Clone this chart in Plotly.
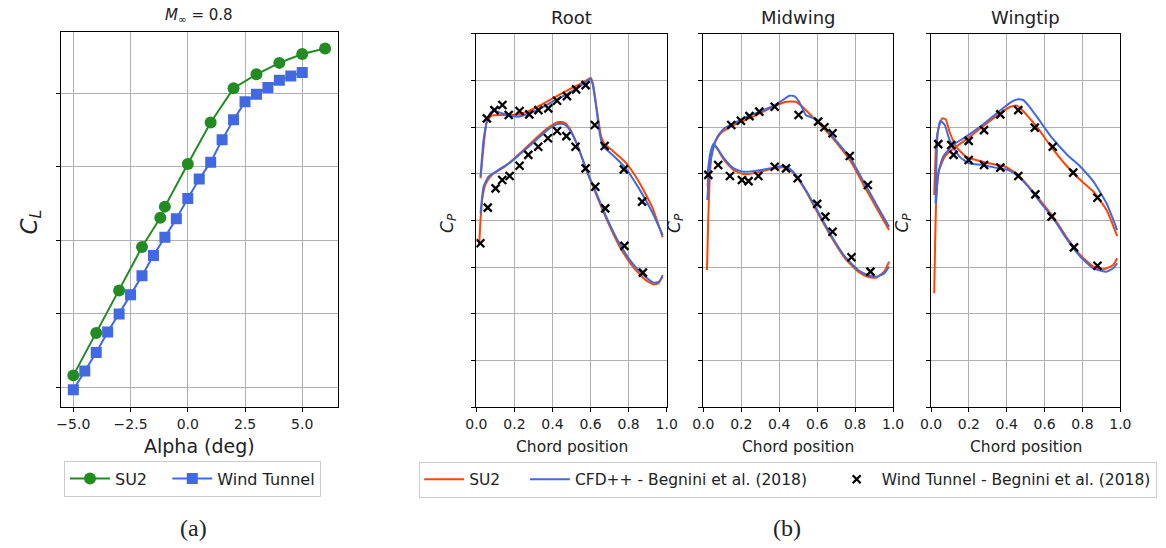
import plotly.graph_objects as go

# ---------------- (a) lift curve ----------------
alpha_su2 = [-5, -4, -3, -2, -1.2, -1, 0, 1, 2, 3, 4, 5, 6]
cl_su2 = [-0.168, -0.053, 0.063, 0.181, 0.261, 0.291, 0.407, 0.520, 0.613, 0.651, 0.682, 0.706, 0.721]
alpha_wt = [-5, -4.5, -4, -3.5, -3, -2.5, -2, -1.5, -1, -0.5, 0, 0.5, 1, 1.5, 2, 2.5, 3, 3.5, 4, 4.5, 5]
cl_wt = [-0.207, -0.156, -0.106, -0.050, -0.001, 0.051, 0.103, 0.158, 0.208, 0.258, 0.313, 0.366,
         0.412, 0.473, 0.527, 0.576, 0.597, 0.615, 0.635, 0.646, 0.656]

# ---------------- (b) pressure distributions ----------------
panels = ["Root", "Midwing", "Wingtip"]

root_su2_up_x = [0.022, 0.038, 0.055, 0.081, 0.132, 0.201, 0.270, 0.338, 0.407, 0.476, 0.545, 0.588, 0.601,
                 0.613, 0.631, 0.656, 0.674, 0.716, 0.785, 0.854, 0.923, 0.979]
root_su2_up_cp = [-0.226, -0.395, -0.529, -0.561, -0.565, -0.565, -0.583, -0.618, -0.657, -0.695, -0.731, -0.756,
                  -0.763, -0.731, -0.609, -0.449, -0.409, -0.374, -0.310, -0.208, -0.074, 0.090]
root_su2_lo_x = [0.015, 0.022, 0.033, 0.050, 0.081, 0.149, 0.235, 0.304, 0.373, 0.430, 0.462, 0.490, 0.527,
                 0.579, 0.631, 0.682, 0.751, 0.820, 0.888, 0.931, 0.957, 0.979]
root_su2_lo_cp = [0.131, -0.003, -0.128, -0.199, -0.244, -0.288, -0.365, -0.431, -0.493, -0.527, -0.524, -0.493,
                  -0.413, -0.267, -0.136, -0.012, 0.136, 0.244, 0.318, 0.342, 0.336, 0.292]
root_cfd_up_x = [0.022, 0.038, 0.055, 0.072, 0.089, 0.115, 0.167, 0.218, 0.270, 0.338, 0.407, 0.476, 0.545,
                 0.588, 0.600, 0.610, 0.627, 0.648, 0.665, 0.682, 0.734, 0.785, 0.854, 0.923, 0.979]
root_cfd_up_cp = [-0.235, -0.431, -0.529, -0.574, -0.588, -0.581, -0.563, -0.556, -0.570, -0.600, -0.640, -0.677,
                  -0.720, -0.752, -0.759, -0.734, -0.627, -0.467, -0.395, -0.381, -0.333, -0.279, -0.172, -0.047, 0.078]
root_cfd_lo_x = [0.022, 0.038, 0.064, 0.115, 0.184, 0.235, 0.304, 0.373, 0.424, 0.459, 0.485, 0.527, 0.579,
                 0.631, 0.682, 0.751, 0.820, 0.888, 0.931, 0.957, 0.979]
root_cfd_lo_cp = [-0.038, -0.181, -0.235, -0.270, -0.315, -0.360, -0.422, -0.484, -0.516, -0.516, -0.493, -0.413,
                  -0.270, -0.145, -0.021, 0.122, 0.229, 0.301, 0.333, 0.329, 0.301]
root_wt_x = [0.055, 0.095, 0.137, 0.170, 0.227, 0.278, 0.326, 0.378, 0.424, 0.476, 0.524, 0.574, 0.622, 0.674,
             0.775, 0.871,
             0.021, 0.060, 0.101, 0.136, 0.175, 0.227, 0.273, 0.325, 0.376, 0.424, 0.473, 0.521, 0.574, 0.625,
             0.677, 0.778, 0.875]
root_wt_cp = [-0.547, -0.591, -0.618, -0.565, -0.586, -0.568, -0.591, -0.600, -0.641, -0.666, -0.702, -0.725,
              -0.511, -0.399, -0.274, -0.101,
              0.122, -0.069, -0.172, -0.217, -0.238, -0.293, -0.351, -0.395, -0.440, -0.479, -0.452, -0.395,
              -0.279, -0.181, -0.065, 0.136, 0.279]

mid_su2_up_x = [0.022, 0.036, 0.057, 0.091, 0.160, 0.229, 0.298, 0.367, 0.436, 0.488, 0.522, 0.574, 0.643,
                0.712, 0.781, 0.850, 0.919, 0.979]
mid_su2_up_cp = [-0.181, -0.324, -0.413, -0.467, -0.511, -0.541, -0.574, -0.609, -0.636, -0.636, -0.609, -0.556,
                 -0.484, -0.404, -0.310, -0.181, -0.056, 0.051]
mid_su2_lo_x = [0.019, 0.026, 0.033, 0.043, 0.057, 0.078, 0.109, 0.160, 0.212, 0.281, 0.350, 0.419, 0.453,
                0.488, 0.540, 0.609, 0.678, 0.747, 0.816, 0.867, 0.910, 0.953, 0.979]
mid_su2_lo_cp = [0.265, -0.020, -0.217, -0.359, -0.404, -0.377, -0.324, -0.270, -0.249, -0.256, -0.274, -0.285,
                 -0.274, -0.238, -0.158, -0.029, 0.095, 0.203, 0.274, 0.301, 0.306, 0.274, 0.220]
mid_cfd_up_x = [0.021, 0.031, 0.048, 0.074, 0.109, 0.160, 0.229, 0.298, 0.367, 0.419, 0.453, 0.479, 0.505,
                0.540, 0.583, 0.643, 0.712, 0.781, 0.850, 0.919, 0.979]
mid_cfd_up_cp = [-0.110, -0.270, -0.368, -0.449, -0.493, -0.520, -0.556, -0.582, -0.613, -0.645, -0.668, -0.666,
                 -0.636, -0.565, -0.547, -0.493, -0.413, -0.324, -0.199, -0.074, 0.033]
mid_cfd_lo_x = [0.022, 0.036, 0.053, 0.074, 0.109, 0.160, 0.212, 0.281, 0.350, 0.419, 0.453, 0.488, 0.540,
                0.609, 0.678, 0.747, 0.816, 0.867, 0.910, 0.953, 0.979]
mid_cfd_lo_cp = [-0.252, -0.359, -0.409, -0.386, -0.333, -0.279, -0.261, -0.267, -0.279, -0.292, -0.279, -0.244,
                 -0.163, -0.038, 0.087, 0.194, 0.265, 0.292, 0.301, 0.283, 0.247]
mid_wt_x = [0.147, 0.198, 0.243, 0.295, 0.376, 0.502, 0.605, 0.638, 0.681, 0.772, 0.867,
            0.026, 0.078, 0.140, 0.203, 0.238, 0.290, 0.376, 0.436, 0.497, 0.600, 0.643, 0.681, 0.781, 0.881]
mid_wt_cp = [-0.511, -0.534, -0.559, -0.583, -0.609, -0.565, -0.529, -0.499, -0.467, -0.345, -0.190,
             -0.244, -0.297, -0.238, -0.217, -0.211, -0.238, -0.288, -0.279, -0.226, -0.089, -0.021, 0.060,
             0.197, 0.274]

tip_su2_up_x = [0.017, 0.022, 0.029, 0.043, 0.073, 0.124, 0.202, 0.271, 0.358, 0.418, 0.453, 0.478, 0.513,
                0.565, 0.634, 0.712, 0.789, 0.858, 0.927, 0.983]
tip_su2_up_cp = [0.390, 0.104, -0.145, -0.270, -0.342, -0.390, -0.445, -0.502, -0.568, -0.609, -0.615, -0.595,
                 -0.556, -0.493, -0.395, -0.297, -0.217, -0.154, -0.056, 0.083]
tip_su2_lo_x = [0.017, 0.029, 0.047, 0.060, 0.078, 0.098, 0.133, 0.185, 0.237, 0.306, 0.392, 0.461, 0.513,
                0.582, 0.651, 0.720, 0.789, 0.858, 0.914, 0.962, 0.983]
tip_su2_lo_cp = [-0.137, -0.431, -0.520, -0.547, -0.541, -0.475, -0.395, -0.342, -0.324, -0.306, -0.288, -0.244,
                 -0.185, -0.101, -0.012, 0.095, 0.185, 0.247, 0.261, 0.238, 0.202]
tip_cfd_up_x = [0.026, 0.038, 0.064, 0.116, 0.185, 0.271, 0.358, 0.427, 0.461, 0.487, 0.513, 0.565, 0.634,
                0.720, 0.789, 0.858, 0.927, 0.983]
tip_cfd_up_cp = [-0.092, -0.252, -0.342, -0.404, -0.449, -0.511, -0.583, -0.636, -0.649, -0.645, -0.618, -0.547,
                 -0.449, -0.351, -0.288, -0.208, -0.092, 0.051]
tip_cfd_lo_x = [0.024, 0.035, 0.050, 0.073, 0.098, 0.150, 0.202, 0.271, 0.358, 0.409, 0.461, 0.513, 0.582,
                0.651, 0.720, 0.789, 0.858, 0.927, 0.962, 0.983]
tip_cfd_lo_cp = [-0.092, -0.467, -0.534, -0.511, -0.431, -0.342, -0.306, -0.297, -0.279, -0.270, -0.235, -0.181,
                 -0.092, -0.003, 0.104, 0.194, 0.256, 0.274, 0.256, 0.229]
tip_wt_x = [0.038, 0.119, 0.199, 0.280, 0.366, 0.461, 0.548, 0.643, 0.751, 0.879,
            0.107, 0.199, 0.280, 0.366, 0.461, 0.551, 0.637, 0.755, 0.879]
tip_wt_cp = [-0.409, -0.351, -0.426, -0.484, -0.568, -0.591, -0.497, -0.395, -0.256, -0.122,
             -0.404, -0.324, -0.297, -0.283, -0.238, -0.140, -0.021, 0.144, 0.242]

cp_ticks = [-1.0, -0.75, -0.5, -0.25, 0.0, 0.25, 0.5, 0.75, 1.0]
chord_ticks = [0.0, 0.2, 0.4, 0.6, 0.8, 1.0]
alpha_ticks = [-5.0, -2.5, 0.0, 2.5, 5.0]
cl_ticks = [-0.2, 0.0, 0.2, 0.4, 0.6]

W, H = 1166, 548
C_SU2 = "#FF4500"
C_CFD = "#4169E1"
C_GREEN = "#228B22"
FONT = "DejaVu Sans"
TXT = "#222222"
NB = "\u00a0"

fig = go.Figure()

# (a)
fig.add_trace(go.Scatter(x=alpha_su2, y=cl_su2, mode="lines+markers", name="SU2" + NB * 3,
                         line=dict(color=C_GREEN, width=2), marker=dict(symbol="circle", size=12, color=C_GREEN),
                         xaxis="x", yaxis="y", legend="legend"))
fig.add_trace(go.Scatter(x=alpha_wt, y=cl_wt, mode="lines+markers", name="Wind Tunnel",
                         line=dict(color=C_CFD, width=2), marker=dict(symbol="square", size=11, color=C_CFD),
                         xaxis="x", yaxis="y", legend="legend"))

# (b)
data_b = [
    (root_su2_up_x, root_su2_up_cp, root_su2_lo_x, root_su2_lo_cp,
     root_cfd_up_x, root_cfd_up_cp, root_cfd_lo_x, root_cfd_lo_cp, root_wt_x, root_wt_cp),
    (mid_su2_up_x, mid_su2_up_cp, mid_su2_lo_x, mid_su2_lo_cp,
     mid_cfd_up_x, mid_cfd_up_cp, mid_cfd_lo_x, mid_cfd_lo_cp, mid_wt_x, mid_wt_cp),
    (tip_su2_up_x, tip_su2_up_cp, tip_su2_lo_x, tip_su2_lo_cp,
     tip_cfd_up_x, tip_cfd_up_cp, tip_cfd_lo_x, tip_cfd_lo_cp, tip_wt_x, tip_wt_cp),
]
for i, d in enumerate(data_b):
    xa, ya = f"x{i+2}", f"y{i+2}"
    su_ux, su_uc, su_lx, su_lc, cf_ux, cf_uc, cf_lx, cf_lc, wt_x, wt_c = d
    first = (i == 0)
    for j, (xx, cc) in enumerate([(su_ux, su_uc), (su_lx, su_lc)]):
        fig.add_trace(go.Scatter(x=xx, y=cc, mode="lines", name="SU2" + NB * 4, legendgroup="su2",
                                 showlegend=first and j == 0, legendrank=1,
                                 line=dict(color=C_SU2, width=2, shape="spline", smoothing=0.5),
                                 xaxis=xa, yaxis=ya, legend="legend2"))
    for j, (xx, cc) in enumerate([(cf_ux, cf_uc), (cf_lx, cf_lc)]):
        fig.add_trace(go.Scatter(x=xx, y=cc, mode="lines", name="CFD++ - Begnini et al. (2018)" + NB * 4,
                                 legendgroup="cfd", showlegend=first and j == 0, legendrank=2,
                                 line=dict(color=C_CFD, width=2, shape="spline", smoothing=0.5),
                                 xaxis=xa, yaxis=ya, legend="legend2"))
    fig.add_trace(go.Scatter(x=wt_x, y=wt_c, mode="markers", name="Wind Tunnel - Begnini et al. (2018)",
                             legendgroup="wt", showlegend=first, legendrank=3,
                             marker=dict(symbol="x-thin", size=8, color="black",
                                         line=dict(width=2.3, color="black")),
                             xaxis=xa, yaxis=ya, legend="legend2"))

axis_common = dict(showline=True, linecolor="black", linewidth=1.2, mirror=True, ticks="outside",
                   ticklen=4, tickwidth=1, tickcolor="black", showgrid=True, gridcolor="#b0b0b0",
                   gridwidth=0.8, zeroline=False)

layout = dict(
    width=W, height=H, margin=dict(l=0, r=0, t=0, b=0),
    paper_bgcolor="white", plot_bgcolor="white",
    font=dict(family=FONT, color=TXT, size=14),
    xaxis=dict(domain=[50.7 / W, 333 / W], range=[-5.55, 6.55], anchor="y",
               tickvals=alpha_ticks, ticktext=["\u22125.0", "\u22122.5", "0.0", "2.5", "5.0"],
               tickfont=dict(size=14, family=FONT, color=TXT), **axis_common),
    yaxis=dict(domain=[1 - 407 / H, 1 - 32 / H], range=[-0.254, 0.766], anchor="x",
               tickvals=cl_ticks, showticklabels=False, **axis_common),
)
x_dom = [(474.3, 668.3), (705.7, 899.0), (937.7, 1130.7)]
for i, (a, b) in enumerate(x_dom):
    layout[f"xaxis{i+2}"] = dict(domain=[a / W, b / W], range=[0, 1], anchor=f"y{i+2}",
                                 tickvals=chord_ticks, ticktext=[f"{v:.1f}" for v in chord_ticks],
                                 tickfont=dict(size=14, family=FONT, color=TXT), **axis_common)
    layout[f"yaxis{i+2}"] = dict(domain=[1 - 407.3 / H, 1 - 33.7 / H], range=[1, -1], anchor=f"x{i+2}",
                                 tickvals=cp_ticks, showticklabels=False, **axis_common)

layout["legend"] = dict(x=54 / W, y=1 - 460.7 / H, xanchor="left", yanchor="top", orientation="h",
                        bordercolor="#cccccc", borderwidth=1, bgcolor="white", itemwidth=40,
                        font=dict(size=16, family=FONT, color=TXT))
layout["legend2"] = dict(x=416 / W, y=1 - 461.7 / H, xanchor="left", yanchor="top", orientation="h",
                         bordercolor="#cccccc", borderwidth=1, bgcolor="white", itemwidth=40,
                         font=dict(size=15.5, family=FONT, color=TXT))
fig.update_layout(**layout)


def ann(text, x, y, size, angle=0, family=FONT):
    fig.add_annotation(text=text, x=x / W, y=1 - y / H, xref="paper", yref="paper", showarrow=False,
                       xanchor="center", yanchor="middle", textangle=angle,
                       font=dict(size=size, family=family, color=TXT))


ann("<i>M</i><sub>\u221e</sub> = 0.8", 191.9, 16, 15)
ann("<i>C<sub>L</sub></i>", 20, 222, 23, angle=-90)
ann("Alpha (deg)", 191.9, 446, 19)
for i, (a, b) in enumerate(x_dom):
    c = (a + b) / 2
    ann(panels[i], c, 17, 18)
    ann("Chord position", c, 446.7, 15.5)
    ann("<i>C<sub>P</sub></i>", a - 29, 223, 17, angle=-90)
ann("(a)", 186, 528, 24, family="Liberation Serif, Times New Roman, serif")
ann("(b)", 791, 528, 24, family="Liberation Serif, Times New Roman, serif")

fig.write_html("out.html")
